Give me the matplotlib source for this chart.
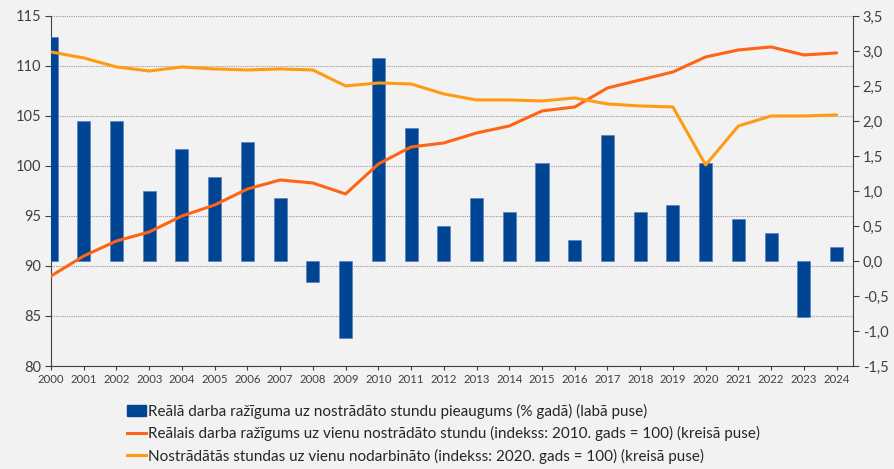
import matplotlib.pyplot as plt
import matplotlib.patches as mpatches
from matplotlib.lines import Line2D

plt.rcParams['font.family'] = ['Lato', 'DejaVu Sans']

# Gadi
years = [str(y) for y in range(2000, 2025)]

# Reālā darba ražīguma pieaugums (% gadā), labā ass
growth = [3.2, 2.0, 2.0, 1.0, 1.6, 1.2, 1.7, 0.9, -0.3, -1.1,
          2.9, 1.9, 0.5, 0.9, 0.7, 1.4, 0.3, 1.8, 0.7, 0.8,
          1.4, 0.6, 0.4, -0.8, 0.2]

# Reālais darba ražīgums uz stundu (2010 = 100), kreisā ass
productivity = [89.0, 91.0, 92.5, 93.4, 95.0, 96.1, 97.7, 98.6, 98.3, 97.2,
                100.2, 101.9, 102.3, 103.3, 104.0, 105.5, 105.9, 107.8, 108.6, 109.4,
                110.9, 111.6, 111.9, 111.1, 111.3]

# Nostrādātās stundas uz nodarbināto (2020 = 100), kreisā ass
hours = [111.4, 110.8, 109.9, 109.5, 109.9, 109.7, 109.6, 109.7, 109.6, 108.0,
         108.3, 108.2, 107.2, 106.6, 106.6, 106.5, 106.8, 106.2, 106.0, 105.9,
         100.1, 104.0, 105.0, 105.0, 105.1]

lbl_bar = 'Reālā darba ražīguma uz nostrādāto stundu pieaugums (% gadā) (labā puse)'
lbl_red = 'Reālais darba ražīgums uz vienu nostrādāto stundu (indekss: 2010. gads = 100) (kreisā puse)'
lbl_org = 'Nostrādātās stundas uz vienu nodarbināto (indekss: 2020. gads = 100) (kreisā puse)'

c_bar = '#004494'
c_red = '#ff6414'
c_org = '#ff9a14'
bg = '#f2f2f2'

x = list(range(len(years)))

fig = plt.figure(figsize=(8.95, 4.69), dpi=100, facecolor=bg)
ax = fig.add_axes([0.057, 0.2196, 0.896, 0.7464])
ax.set_facecolor(bg)

# kreisā ass + režģis
ax.set_ylim(80, 115)
ax.set_yticks(range(80, 116, 5))
ax.yaxis.grid(True, color='#999999', linestyle=(0, (1, 1)), linewidth=0.8)
ax.set_axisbelow(True)
ax.set_xlim(0, 24.5)
ax.set_xticks(x)
ax.set_xticklabels(years, fontsize=8.2)
ax.tick_params(axis='y', labelsize=10.5, colors='#404040', length=4, pad=3)
ax.tick_params(axis='x', colors='#404040', length=3, pad=3)
ax.spines['top'].set_visible(False)
ax.spines['right'].set_visible(False)
for s in ['left', 'bottom']:
    ax.spines[s].set_color('#404040')

# stabiņi uz labās ass
ax2 = ax.twinx()
ax2.bar(x, growth, width=0.4, color=c_bar, edgecolor='#5b7fbf', linewidth=0.5)
ax2.set_ylim(-1.5, 3.5)
ax2.set_yticks([-1.5, -1.0, -0.5, 0.0, 0.5, 1.0, 1.5, 2.0, 2.5, 3.0, 3.5])
ax2.set_yticklabels([f'{v:.1f}'.replace('.', ',') for v in ax2.get_yticks()])
ax2.tick_params(axis='y', labelsize=10.5, colors='#404040', length=4, pad=3)
ax2.spines['top'].set_visible(False)
ax2.spines['left'].set_visible(False)
ax2.spines['bottom'].set_visible(False)
ax2.spines['right'].set_color('#404040')
ax2.set_xlim(0, 24.5)

# līnijas uz kreisās ass
ax3 = ax.twinx()
ax3.plot(x, productivity, color=c_red, linewidth=2.2, solid_capstyle='round')
ax3.plot(x, hours, color=c_org, linewidth=2.2, solid_capstyle='round')
ax3.set_ylim(80, 115)
ax3.set_xlim(0, 24.5)
ax3.axis('off')

handles = [mpatches.Patch(color=c_bar),
           Line2D([], [], color=c_red, linewidth=2.2),
           Line2D([], [], color=c_org, linewidth=2.2)]
fig.legend(handles, [lbl_bar, lbl_red, lbl_org], loc='upper left',
           bbox_to_anchor=(0.126, 0.168), frameon=False, fontsize=11,
           handlelength=1.25, handletextpad=0.15, labelspacing=0.48,
           labelcolor='#262626')

plt.savefig('out.png', dpi=100, facecolor=bg)
